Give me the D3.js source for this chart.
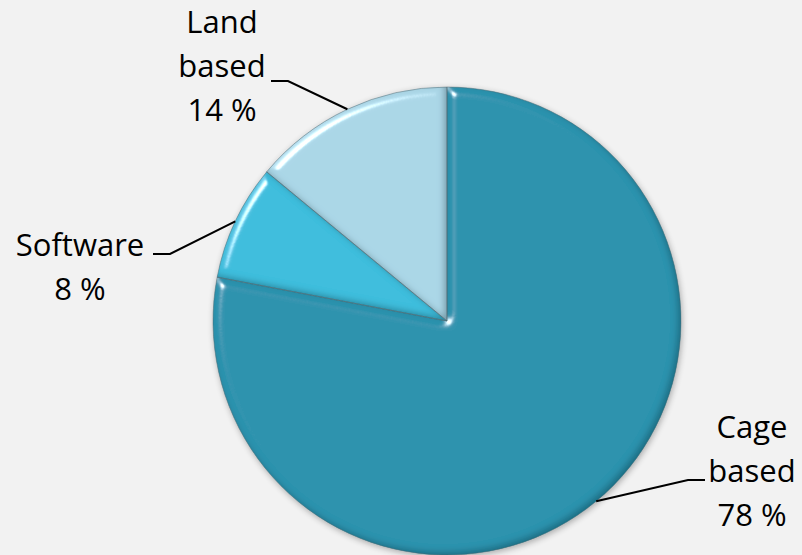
<!DOCTYPE html>
<html>
<head>
<meta charset="utf-8">
<script src="https://cdn.jsdelivr.net/npm/d3@7"></script>
<style>
  html, body { margin: 0; padding: 0; background: #f2f2f2; }
  svg { display: block; }
  text { font-family: "Open Sans", "Noto Sans", sans-serif; fill: #000; }
</style>
</head>
<body>
<svg id="chart" width="802" height="555"></svg>
<script>
// Market share by segment
const categories = ["Cage based", "Software", "Land based"];
const labelLines = [["Cage", "based"], ["Software"], ["Land", "based"]];
const shares = [78, 8, 14];

const width = 802, height = 555;
const cx = 447, cy = 321, radius = 234;

const svg = d3.select("#chart");
svg.append("rect").attr("width", width).attr("height", height).attr("fill", "#f2f2f2");

const defs = svg.append("defs");

// soft bevel: specular highlight on the upper-left slopes, inner shade on the lower-right
const bevel = defs.append("filter").attr("id", "bevel")
  .attr("x", "-10%").attr("y", "-10%").attr("width", "120%").attr("height", "120%");
bevel.append("feGaussianBlur").attr("in", "SourceAlpha").attr("stdDeviation", 5).attr("result", "blur");
const spec = bevel.append("feSpecularLighting").attr("in", "blur")
  .attr("surfaceScale", 9).attr("specularConstant", 1.1).attr("specularExponent", 35)
  .attr("lighting-color", "#ffffff").attr("result", "spec");
spec.append("feDistantLight").attr("azimuth", 225).attr("elevation", 20);
bevel.append("feComposite").attr("in", "spec").attr("in2", "SourceAlpha").attr("operator", "in").attr("result", "specOut");
// inner shade
bevel.append("feComponentTransfer").attr("in", "SourceAlpha").attr("result", "inv")
  .append("feFuncA").attr("type", "table").attr("tableValues", "1 0");
bevel.append("feGaussianBlur").attr("in", "inv").attr("stdDeviation", 3).attr("result", "invBlur");
bevel.append("feOffset").attr("in", "invBlur").attr("dx", -3).attr("dy", -3).attr("result", "invOff");
bevel.append("feComposite").attr("in", "invOff").attr("in2", "SourceAlpha").attr("operator", "in").attr("result", "shadeA");
bevel.append("feFlood").attr("flood-color", "#0b3a48").attr("flood-opacity", 0.55).attr("result", "shadeC");
bevel.append("feComposite").attr("in", "shadeC").attr("in2", "shadeA").attr("operator", "in").attr("result", "shade");
bevel.append("feComposite").attr("in", "SourceGraphic").attr("in2", "specOut")
  .attr("operator", "arithmetic").attr("k1", 0).attr("k2", 1).attr("k3", 1.0).attr("k4", 0).attr("result", "lit");
const bm = bevel.append("feMerge");
bm.append("feMergeNode").attr("in", "lit");
bm.append("feMergeNode").attr("in", "shade");

// drop shadow under the pie
const shadow = defs.append("filter").attr("id", "shadow")
  .attr("x", "-10%").attr("y", "-10%").attr("width", "120%").attr("height", "120%");
shadow.append("feGaussianBlur").attr("in", "SourceAlpha").attr("stdDeviation", 3).attr("result", "b");
shadow.append("feOffset").attr("in", "b").attr("dx", 1).attr("dy", 2).attr("result", "o");
shadow.append("feComponentTransfer").attr("in", "o").attr("result", "s")
  .append("feFuncA").attr("type", "linear").attr("slope", 0.3);
const sm = shadow.append("feMerge");
sm.append("feMergeNode").attr("in", "s");
sm.append("feMergeNode").attr("in", "SourceGraphic");

// radial shading per slice
const gradStops = [
  ["#2b8aa4", "#2f93ae"],
  ["#36aacb", "#41bedd"],
  ["#93b0bd", "#abd7e7"]
];
gradStops.forEach((s, i) => {
  const g = defs.append("radialGradient").attr("id", "grad" + i)
    .attr("gradientUnits", "userSpaceOnUse")
    .attr("cx", cx).attr("cy", cy).attr("r", radius);
  g.append("stop").attr("offset", "0%").attr("stop-color", s[0]);
  g.append("stop").attr("offset", "100%").attr("stop-color", s[1]);
});

const pie = d3.pie().sort(null).value(d => d)(shares);
const arc = d3.arc().innerRadius(0).outerRadius(radius);

const gPie = svg.append("g").attr("transform", `translate(${cx},${cy})`).attr("filter", "url(#shadow)");

gPie.selectAll("path.slice").data(pie).join("path")
  .attr("class", "slice")
  .attr("d", arc)
  .attr("fill", (d, i) => `url(#grad${i})`)
  .attr("filter", "url(#bevel)");

gPie.selectAll("path.edge").data(pie).join("path")
  .attr("class", "edge")
  .attr("d", arc)
  .attr("fill", "none")
  .attr("stroke", "#4d6770")
  .attr("stroke-opacity", 0.6)
  .attr("stroke-width", 0.8);

// labels with leader lines
const labelPos = [
  { x: 752, y: 438, anchor: 688, lineY: 480, side: "right" },
  { x: 80, y: 256, anchor: 170, lineY: 254, side: "left" },
  { x: 222, y: 33, anchor: 288, lineY: 81, side: "left" }
];

pie.forEach((d, i) => {
  const mid = (d.startAngle + d.endAngle) / 2;
  const px = cx + radius * Math.sin(mid);
  const py = cy - radius * Math.cos(mid);
  const p = labelPos[i];
  const end = p.side === "right" ? p.anchor + 17 : p.anchor - 17;
  svg.append("path")
    .attr("d", `M${px},${py}L${p.anchor},${p.lineY}L${end},${p.lineY}`)
    .attr("fill", "none").attr("stroke", "#000").attr("stroke-width", 2);

  const lines = labelLines[i].concat([`${shares[i]} %`]);
  const t = svg.append("text").attr("text-anchor", "middle").attr("font-size", 31);
  lines.forEach((s, k) => {
    t.append("tspan").attr("x", p.x).attr("y", p.y + k * 44).text(s);
  });
});
</script>
</body>
</html>
